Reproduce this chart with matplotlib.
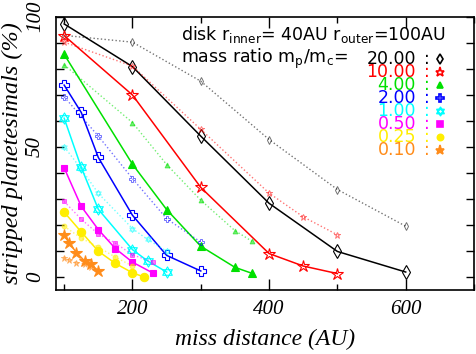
import numpy as np
import matplotlib
matplotlib.use('Agg')
from matplotlib import pyplot as plt
from matplotlib.path import Path

# mass ratio m_p/m_c and the colour used for it
ratios = ['20.00', '10.00', '4.00', '2.00', '1.00', '0.50', '0.25', '0.10']
colors = ['black', '#ff0000', '#00e000', '#0000ff', '#00ffff', '#ff00ff', '#ffee00', '#ff8c1a']

# solid curves (big symbols)
x20 = [100, 200, 300, 400, 500, 600]
y20 = [97.2, 80.8, 54.1, 28.3, 9.8, 1.9]
x10 = [100, 200, 300, 400, 450, 500]
y10 = [92.7, 69.9, 34.4, 9.0, 4.2, 1.3]
x4 = [100, 200, 250, 300, 350, 375]
y4 = [85.5, 43.3, 25.9, 11.8, 3.7, 1.4]
x2 = [100, 125, 150, 200, 250, 300]
y2 = [73.7, 63.2, 45.9, 23.7, 8.3, 2.3]
x1 = [100, 125, 150, 200, 222, 250]
y1 = [61.0, 42.1, 26.0, 10.5, 6.2, 1.9]
x05 = [100, 125, 150, 175, 200, 230]
y05 = [41.9, 27.1, 18.2, 10.9, 5.7, 1.5]
x025 = [100, 125, 150, 175, 200, 217]
y025 = [24.9, 17.3, 9.9, 5.2, 1.6, 0.0]
x01 = [100, 107, 118, 130, 139, 150]
y01 = [16.2, 13.1, 9.4, 6.1, 4.9, 2.4]

# dotted curves (small symbols)
xd20 = [100, 200, 300, 400, 500, 600]
yd20 = [92.8, 90.2, 75.2, 52.8, 33.6, 19.5]
xd10 = [100, 200, 300, 400, 450, 500]
yd10 = [90.2, 81.0, 56.7, 32.2, 23.1, 16.2]
xd4 = [100, 200, 250, 300, 350, 375]
yd4 = [81.5, 59.3, 43.2, 29.5, 17.8, 13.7]
xd2 = [100, 150, 200, 250, 300]
yd2 = [69.2, 54.1, 37.8, 22.4, 13.4]
xd1 = [100, 125, 150, 200, 222, 250]
yd1 = [50.0, 41.5, 32.1, 18.6, 14.4, 9.9]
xd05 = [100, 125, 150, 175, 200, 230]
yd05 = [29.0, 22.2, 16.5, 13.0, 8.5, 5.8]
xd025 = [100, 125, 150, 175, 200]
yd025 = [19.5, 14.9, 11.5, 7.6, 4.2]
xd01 = [100, 107, 118, 130, 139]
yd01 = [7.4, 6.7, 5.5, 4.9, 4.0]

solid = [(x20, y20), (x10, y10), (x4, y4), (x2, y2), (x1, y1), (x05, y05), (x025, y025), (x01, y01)]
dotted = [(xd20, yd20), (xd10, yd10), (xd4, yd4), (xd2, yd2), (xd1, yd1), (xd05, yd05), (xd025, yd025), (xd01, yd01)]

# star of david outline
hexagram = Path([(0, 1), (-0.866, -0.5), (0.866, -0.5), (0, 1),
                 (0, -1), (0.866, 0.5), (-0.866, 0.5), (0, -1)],
                [Path.MOVETO, Path.LINETO, Path.LINETO, Path.CLOSEPOLY,
                 Path.MOVETO, Path.LINETO, Path.LINETO, Path.CLOSEPOLY])
markers = ['d', '*', '^', 'P', hexagram, 's', 'o', '*']
filled = [False, False, True, False, False, True, True, True]
big_ms = [7, 9, 6, 7, 8, 5, 6, 9]
small_ms = [4, 5, 3.5, 4, 4.5, 3, 3.5, 5]

plt.rcParams['mathtext.fontset'] = 'dejavusans'

fig = plt.figure(figsize=(4.76, 3.54), dpi=100)
ax = fig.add_axes([0.1176, 0.1808, 0.8782, 0.7722])

for i in range(len(ratios)):
    c = colors[i]
    fc = c if filled[i] else 'none'
    xs, ys = dotted[i]
    ax.plot(xs, ys, ls=':', lw=1.0, color=c, alpha=0.55, marker=markers[i],
            ms=small_ms[i], mfc=fc, mec=c, mew=0.7)
    xs, ys = solid[i]
    ax.plot(xs, ys, ls='-', lw=1.1, color=c, marker=markers[i],
            ms=big_ms[i], mfc=fc, mec=c, mew=0.8)

ax.set_xlim(88, 700)
ax.set_ylim(-5, 100)
ax.set_xticks([200, 400, 600])
ax.set_xticks([100, 300, 500, 700], minor=True)
ax.set_yticks(np.arange(0, 101, 10))
ax.set_yticklabels(['0', '', '', '', '', '50', '', '', '', '', '100'])
ax.tick_params(which='both', direction='in', top=True, right=True, width=1)
ax.tick_params(axis='x', which='major', length=8, pad=7)
ax.tick_params(axis='x', which='minor', length=4)
ax.tick_params(axis='y', length=6, pad=8)
for lab in ax.get_xticklabels() + ax.get_yticklabels():
    lab.set_fontfamily('Liberation Serif')
    lab.set_fontstyle('italic')
    lab.set_fontsize(15)
for lab in ax.get_yticklabels():
    lab.set_rotation(90)
    lab.set_va('center')
for sp in ax.spines.values():
    sp.set_linewidth(1.2)

ax.set_xlabel('miss distance (AU)', family='Liberation Serif', style='italic', fontsize=17, labelpad=7)
ax.set_ylabel('stripped planetesimals (%)', family='Liberation Serif', style='italic', fontsize=17.5, labelpad=2)

ax.text(0.300, 0.933, r'disk r$_{\rm inner}$= 40AU r$_{\rm outer}$=100AU', transform=ax.transAxes,
        fontsize=12.5, va='center')
ax.text(0.300, 0.845, r'mass ratio m$_{\rm p}$/m$_{\rm c}$=', transform=ax.transAxes,
        fontsize=12.5, va='center')

for i in range(len(ratios)):
    yy = 0.845 - 0.0476 * i
    ax.text(0.861, yy, ratios[i], transform=ax.transAxes, color=colors[i], fontsize=12.5,
            ha='right', va='center')
    ax.text(0.887, yy, ':', transform=ax.transAxes, color=colors[i], fontsize=12.5,
            ha='center', va='center')
    fc = colors[i] if filled[i] else 'none'
    ax.plot([0.919], [yy], transform=ax.transAxes, marker=markers[i], ms=big_ms[i] * 0.75,
            mfc=fc, mec=colors[i], mew=1.2, clip_on=False, ls='none')

fig.savefig('out.png', dpi=100)
